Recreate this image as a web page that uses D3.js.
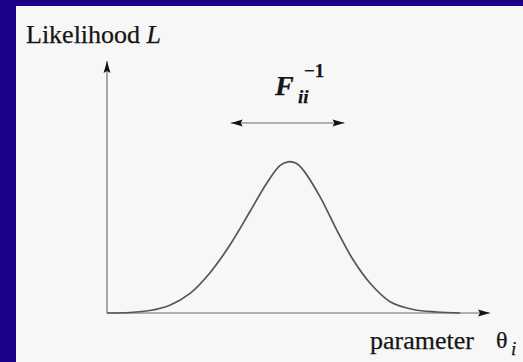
<!DOCTYPE html>
<html>
<head>
<meta charset="utf-8">
<script src="https://cdn.jsdelivr.net/npm/d3@7"></script>
<style>
  html, body { margin: 0; padding: 0; background: #1c0088; }
  svg { display: block; }
  text { font-family: "Liberation Serif", "Times New Roman", serif; fill: #151515; stroke: #151515; stroke-width: 0.25; }
</style>
</head>
<body>
<div id="chart"></div>
<script>
/* Likelihood curve sketch, axis units are arbitrary (0..100 both ways) */

// parameter positions and likelihood heights
const THETA = [0, 6, 11.2, 16.4, 21.7, 26.9, 32.1, 37.3, 41.7, 45.2, 47.3, 49.4, 51.3, 55.6, 60.0, 64.3, 68.7, 73.9, 80.0, 86.1, 92.2];
const LIKELIHOOD = [0, 0.2, 1.0, 3.1, 7.8, 16.0, 27.0, 40.2, 51.5, 58.6, 60.0, 59.4, 56.6, 46.2, 32.9, 21.0, 11.8, 4.5, 1.4, 0.4, 0];

// width marker above the peak, in parameter units
const WIDTH_SPAN = [32.3, 62.0];
const WIDTH_LEVEL = 75.4;

const W = 523, H = 362;

const svg = d3.select('#chart').append('svg')
  .attr('width', W)
  .attr('height', H);

// white panel
svg.append('rect')
  .attr('x', 16).attr('y', 6)
  .attr('width', W - 16).attr('height', H - 6)
  .attr('fill', '#f7f7f7');

const x = d3.scaleLinear().domain([0, 100]).range([107, 490]);
const y = d3.scaleLinear().domain([0, 100]).range([313, 61]);

const defs = svg.append('defs');
defs.append('marker')
  .attr('id', 'head')
  .attr('viewBox', '0 0 12 8')
  .attr('refX', 12).attr('refY', 4)
  .attr('markerWidth', 12).attr('markerHeight', 8)
  .attr('markerUnits', 'userSpaceOnUse')
  .attr('orient', 'auto-start-reverse')
  .append('path')
  .attr('d', 'M0,0.6 L12,4 L0,7.4 L2,4 Z')
  .attr('fill', '#111');

// axes
svg.append('line')
  .attr('x1', x(0)).attr('y1', y(0))
  .attr('x2', x(0)).attr('y2', y(100))
  .attr('stroke', '#999').attr('stroke-width', 1.7)
  .attr('marker-end', 'url(#head)');

svg.append('line')
  .attr('x1', x(0)).attr('y1', y(0))
  .attr('x2', x(100)).attr('y2', y(0))
  .attr('stroke', '#999').attr('stroke-width', 1.7)
  .attr('marker-end', 'url(#head)');

// likelihood curve
const pts = THETA.map((t, i) => [t, LIKELIHOOD[i]]);
const line = d3.line()
  .x(d => x(d[0]))
  .y(d => y(d[1]))
  .curve(d3.curveCatmullRom.alpha(0.5));

svg.append('path')
  .datum(pts)
  .attr('d', line)
  .attr('fill', 'none')
  .attr('stroke', '#555')
  .attr('stroke-width', 1.7);

// double arrow for the width
svg.append('line')
  .attr('x1', x(WIDTH_SPAN[0])).attr('y1', y(WIDTH_LEVEL))
  .attr('x2', x(WIDTH_SPAN[1])).attr('y2', y(WIDTH_LEVEL))
  .attr('stroke', '#999').attr('stroke-width', 1.7)
  .attr('marker-start', 'url(#head)')
  .attr('marker-end', 'url(#head)');

// labels
const yl = svg.append('text').attr('x', 26).attr('y', 43).attr('font-size', 26);
yl.append('tspan').text('Likelihood ');
yl.append('tspan').attr('font-style', 'italic').text('L');

svg.append('text').attr('x', 275).attr('y', 95).attr('font-size', 28)
  .attr('font-style', 'italic').attr('font-weight', 'bold').text('F');
svg.append('text').attr('x', 298).attr('y', 103).attr('font-size', 19)
  .attr('font-style', 'italic').attr('font-weight', 'bold').text('ii');
svg.append('text').attr('x', 304).attr('y', 77).attr('font-size', 19)
  .attr('font-weight', 'bold').text('−1');

svg.append('text').attr('x', 370).attr('y', 349).attr('font-size', 26).text('parameter');
svg.append('text').attr('x', 496).attr('y', 348)
  .attr('font-family', '"DejaVu Serif", serif').attr('font-size', 24).text('θ');
svg.append('text').attr('x', 511).attr('y', 355).attr('font-size', 19)
  .attr('font-style', 'italic').text('i');
</script>
</body>
</html>
